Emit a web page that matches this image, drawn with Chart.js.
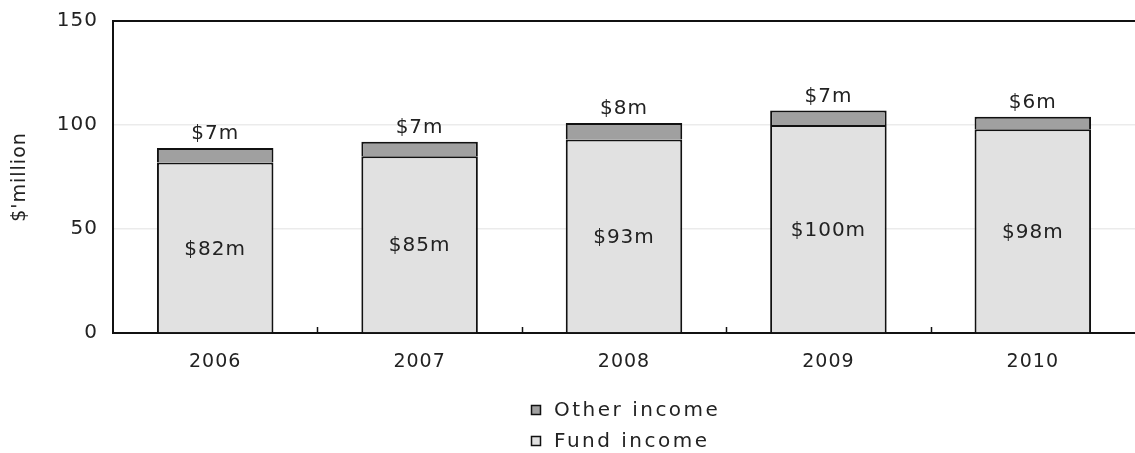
<!doctype html>
<html>
  <head>
    <meta charset="utf-8" />
    <title>Income</title>
    <script src="https://cdn.jsdelivr.net/npm/chart.js@4/dist/chart.umd.min.js"></script>
    <style>
      body { margin: 0; background: #fff; }
      #wrap { width: 1135px; height: 453px; }
    </style>
  </head>
  <body>
    <div id="wrap"><canvas id="chart" width="1135" height="453"></canvas></div>
    <script>
      const years = ["2006", "2007", "2008", "2009", "2010"];
      const fundIncome = [82, 85, 93, 100, 98];
      const otherIncome = [7, 7, 8, 7, 6];
      const yTicks = [0, 50, 100, 150];

      const fnt = "'DejaVu Sans', sans-serif";

      // labels, inner tick marks and legend drawn by hand
      const extras = {
        id: "extras",
        beforeDraw(chart) {
          chart.ctx.letterSpacing = "1px";
        },
        afterDatasetsDraw(chart) {
          const ctx = chart.ctx;
          const x = chart.scales.x;
          const y = chart.scales.y;
          ctx.save();
          ctx.font = "20px " + fnt;
          ctx.letterSpacing = "1px";
          ctx.fillStyle = "#222";
          ctx.textAlign = "center";
          ctx.textBaseline = "middle";
          chart.getDatasetMeta(0).data.forEach((bar, i) => {
            ctx.fillText("$" + fundIncome[i] + "m", bar.x, (bar.y + bar.base) / 2 + 2);
          });
          chart.getDatasetMeta(1).data.forEach((bar, i) => {
            ctx.fillText("$" + otherIncome[i] + "m", bar.x, bar.y - 14);
          });
          // small ticks between categories, pointing up
          ctx.strokeStyle = "#111";
          ctx.lineWidth = 1.5;
          for (let i = 1; i < years.length; i++) {
            const px = Math.round((x.getPixelForValue(i - 1) + x.getPixelForValue(i)) / 2) + 0.5;
            ctx.beginPath();
            ctx.moveTo(px, y.bottom);
            ctx.lineTo(px, y.bottom - 6);
            ctx.stroke();
          }
          // legend
          const items = [
            { text: "Other income", color: "#a0a0a0" },
            { text: "Fund income", color: "#e1e1e1" },
          ];
          ctx.textAlign = "left";
          ctx.letterSpacing = "2.5px";
          items.forEach((it, k) => {
            const ly = 410 + k * 31;
            ctx.fillStyle = it.color;
            ctx.fillRect(531, ly - 5, 10, 10);
            ctx.strokeStyle = "#111";
            ctx.lineWidth = 1.5;
            ctx.strokeRect(531.5, ly - 4.5, 9, 9);
            ctx.fillStyle = "#222";
            ctx.fillText(it.text, 554, ly + 1);
          });
          ctx.restore();
        },
        afterDraw(chart) {
          chart.ctx.letterSpacing = "0px";
        },
      };

      new Chart(document.getElementById("chart"), {
        type: "bar",
        data: {
          labels: years,
          datasets: [
            {
              label: "Fund income",
              data: fundIncome,
              backgroundColor: "#e1e1e1",
              borderColor: "#111",
              borderWidth: 2,
              borderSkipped: "bottom",
            },
            {
              label: "Other income",
              data: otherIncome,
              backgroundColor: "#a0a0a0",
              borderColor: "#111",
              borderWidth: 2,
              borderSkipped: "bottom",
            },
          ],
        },
        options: {
          responsive: false,
          animation: false,
          layout: { padding: { top: 21, bottom: 60, right: 0 } },
          datasets: { bar: { barPercentage: 0.57, categoryPercentage: 1 } },
          plugins: { legend: { display: false }, tooltip: { enabled: false } },
          scales: {
            x: {
              stacked: true,
              grid: { display: false },
              border: { color: "#111", width: 2 },
              ticks: { color: "#222", font: { family: fnt, size: 19 }, padding: 10 },
              afterFit(s) { s.height = 60; },
            },
            y: {
              stacked: true,
              min: 0,
              max: 150,
              afterBuildTicks(s) { s.ticks = yTicks.map((v) => ({ value: v })); },
              grid: {
                drawTicks: false,
                color: (c) => (c.tick && c.tick.value === 150 ? "#111" : "#ebebeb"),
                lineWidth: (c) => (c.tick && c.tick.value === 150 ? 2 : 1.5),
              },
              border: { color: "#111", width: 2 },
              ticks: { color: "#222", font: { family: fnt, size: 20 }, padding: 15 },
              title: {
                display: true,
                text: "$'million",
                color: "#222",
                font: { family: fnt, size: 19 },
                padding: { top: 9, bottom: 18 },
              },
              afterFit(s) {
                s.width = 113;
                s.paddingTop = 0;
                s.paddingBottom = 0;
              },
            },
          },
        },
        plugins: [extras],
      });
    </script>
  </body>
</html>
